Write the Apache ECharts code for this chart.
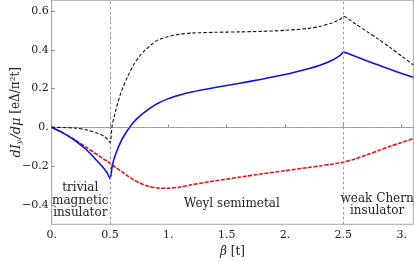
<!DOCTYPE html>
<html>
<head>
<meta charset="utf-8">
<script src="https://cdn.jsdelivr.net/npm/echarts@6/dist/echarts.min.js"></script>
<style>html,body{margin:0;padding:0;background:#fff;}#c{width:415px;height:262px;}</style>
</head>
<body>
<div id="c"></div>
<script>
// beta values [t]
var beta = [0,0.1,0.2,0.3,0.4,0.45,0.48,0.5,0.52,0.55,0.6,0.65,0.7,0.75,0.8,0.9,1.0,1.1,1.2,1.4,1.6,1.8,2.0,2.2,2.3,2.4,2.45,2.48,2.5,2.6,2.7,2.8,2.9,3.0,3.1];
// black dashed curve
var blackVals = [0,-0.001,-0.004,-0.013,-0.032,-0.047,-0.062,-0.078,0.015,0.09,0.19,0.26,0.32,0.365,0.398,0.447,0.468,0.48,0.486,0.49,0.492,0.495,0.5,0.51,0.52,0.538,0.55,0.56,0.572,0.535,0.495,0.455,0.412,0.367,0.322];
// blue solid curve
var blueVals = [0,-0.03,-0.068,-0.117,-0.18,-0.213,-0.24,-0.265,-0.195,-0.135,-0.065,-0.015,0.025,0.055,0.08,0.12,0.148,0.167,0.182,0.205,0.226,0.248,0.272,0.302,0.32,0.345,0.362,0.375,0.388,0.366,0.343,0.321,0.299,0.278,0.258];
// red dashed curve
var redVals = [0,-0.03,-0.065,-0.104,-0.145,-0.165,-0.177,-0.186,-0.195,-0.208,-0.228,-0.25,-0.27,-0.286,-0.299,-0.313,-0.314,-0.308,-0.296,-0.276,-0.258,-0.24,-0.224,-0.207,-0.199,-0.19,-0.185,-0.182,-0.18,-0.163,-0.142,-0.12,-0.098,-0.078,-0.058];
// tick values
var xTicks = [0,0.5,1,1.5,2,2.5,3];
var yTicks = [-0.4,-0.2,0,0.2,0.4,0.6];
// phase boundaries
var refX = [0.5,2.5];
var refY = [0];
// region annotations
var regionText = ['trivial\nmagnetic\ninsulator','Weyl semimetal','weak Chern\ninsulator'];
var regionBeta = [0.245,1.545,2.79];
var regionVal = [-0.377,-0.397,-0.4];

function pairs(vals){ return beta.map(function(b,i){ return [b, vals[i]]; }); }
function fmt(v){
  var s;
  if (Math.abs(v - Math.round(v)) < 1e-9) s = Math.abs(Math.round(v)) + '.';
  else s = Math.abs(v).toFixed(1);
  return (v < -1e-9 ? '\u2212' : '') + s;
}
var FONT = 'DejaVu Serif';
var frameColor = '#aaaaaa';

var chart = echarts.init(document.getElementById('c'), null, {renderer:'canvas'});
var markLines = [];
refX.forEach(function(x){ markLines.push({xAxis:x}); });
refY.forEach(function(y){ markLines.push({yAxis:y}); });
var markPts = regionText.map(function(t,i){
  return {coord:[regionBeta[i], regionVal[i]], name:t, value:t};
});

chart.setOption({
  animation:false,
  backgroundColor:'#ffffff',
  grid:{left:51.7, right:1.7, top:0.3, bottom:37.7, show:true, borderColor:frameColor, borderWidth:1, containLabel:false, outerBoundsMode:'none'},
  xAxis:{
    type:'value', min:0, max:3.1,
    name:'{i|\u03b2} [t]', nameLocation:'middle', nameGap:22, nameMoveOverlap:false,
    nameTextStyle:{fontFamily:FONT, fontSize:12, color:'#222', rich:{i:{fontFamily:FONT, fontSize:12, fontStyle:'italic', color:'#222'}}},
    axisLine:{show:true, lineStyle:{color:frameColor, width:1}},
    axisTick:{show:true, inside:true, length:3, lineStyle:{color:'#888'}, customValues:xTicks},
    axisLabel:{customValues:xTicks, formatter:fmt, fontFamily:FONT, fontSize:11, color:'#222', margin:5},
    splitLine:{show:false}
  },
  yAxis:{
    type:'value', min:-0.5, max:0.655,
    name:'{i|dI}{sub|y}{i|/d\u03bc} [e\u0394/\u03c0\u00b2t]', nameLocation:'middle', nameGap:29, nameRotate:90, nameMoveOverlap:false,
    nameTextStyle:{fontFamily:FONT, fontSize:12, color:'#222', rich:{
      i:{fontFamily:FONT, fontSize:13, fontStyle:'italic', color:'#222'},
      sub:{fontFamily:FONT, fontSize:8, fontStyle:'italic', color:'#222', verticalAlign:'bottom', padding:[0,1,0,0]}
    }},
    axisLine:{show:true, lineStyle:{color:frameColor, width:1}},
    axisTick:{show:true, inside:true, length:3, lineStyle:{color:'#888'}, customValues:yTicks},
    axisLabel:{customValues:yTicks, formatter:fmt, fontFamily:FONT, fontSize:11, color:'#222', margin:3},
    splitLine:{show:false}
  },
  series:[
    {
      type:'line', name:'guides', data:[[0,0]], showSymbol:false, silent:true, z:1,
      lineStyle:{opacity:0},
      markLine:{silent:true, symbol:'none', label:{show:false},
        lineStyle:{color:'#999', type:[2.5,2.5], width:1}, data:markLines},
      markPoint:{symbol:'circle', symbolSize:1, silent:true, data:markPts,
        itemStyle:{color:'rgba(0,0,0,0)'},
        label:{show:true, formatter:function(p){return p.name;}, fontFamily:FONT, fontSize:12, color:'#222', lineHeight:12.7, align:'center', verticalAlign:'middle', position:'inside'}}
    },
    {type:'line', name:'red', data:pairs(redVals), showSymbol:false, smooth:0.25, z:3,
      lineStyle:{color:'#ee1111', width:1.6, type:[4,1.5]}},
    {type:'line', name:'blue', data:pairs(blueVals), showSymbol:false, smooth:0.25, z:4,
      lineStyle:{color:'#1111ee', width:1.6}},
    {type:'line', name:'black', data:pairs(blackVals), showSymbol:false, smooth:0.25, z:5,
      lineStyle:{color:'#111111', width:1.1, type:[3.5,2]}}
  ]
});
</script>
</body>
</html>
